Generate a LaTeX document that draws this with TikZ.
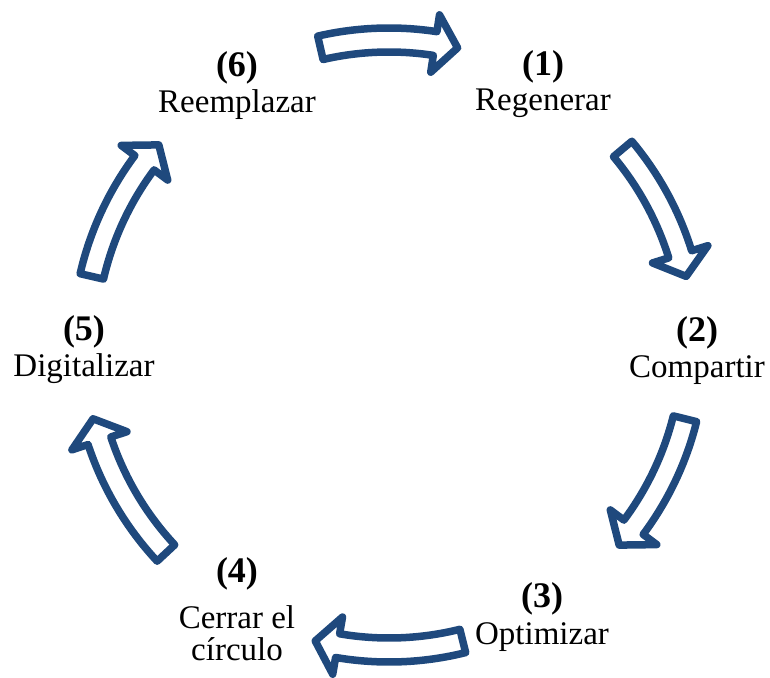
\documentclass[tikz,border=0pt]{standalone}
\usepackage{fontspec}
\setmainfont{Liberation Serif}
\definecolor{cycleblue}{HTML}{1F497D}
\tikzset{
  cyclearrow/.style={draw=cycleblue, line width=7.5pt, line join=round, fill=white},
  stepnum/.style={anchor=base, inner sep=0pt, font=\fontsize{36}{38}\selectfont\bfseries},
  stepname/.style={anchor=base, inner sep=0pt, font=\fontsize{33}{36}\selectfont},
}
% Curved block arrow on the ring: #1 = tail angle, #2 = tip angle
\newcommand{\ringarrow}[2]{%
  \pgfmathsetmacro{\headang}{#2+4.3}
  \draw[cyclearrow] (#1:317pt) arc[start angle=#1, end angle=\headang, radius=317pt]
    -- (\headang:334pt) -- (#2:305pt) -- (\headang:276pt) -- (\headang:293pt)
    arc[start angle=\headang, end angle=#1, radius=293pt] -- cycle;}

\begin{document}
\begin{tikzpicture}[x=1pt, y=1pt]
\useasboundingbox (-389,-332) rectangle (381,345);
% Arrows around the cycle
\ringarrow{103}{77}
\ringarrow{40}{13}
\ringarrow{-14}{-41}
\ringarrow{-76}{-104}
\ringarrow{-137}{-166}
\ringarrow{167}{139}
% Steps
\node[stepnum] (n1) at (154,269) {(1)};
\node[stepname] (t1) at (154,234) {Regenerar};
\node[stepnum] (n2) at (308,4) {(2)};
\node[stepname] (t2) at (308,-32) {Compartir};
\node[stepnum] (n3) at (153,-262) {(3)};
\node[stepname] (t3) at (153,-299) {Optimizar};
\node[stepnum] (n4) at (-152,-237) {(4)};
\node[stepname] (t4) at (-152,-283) {Cerrar el};
\node[stepname] (t4b) at (-152,-315) {círculo};
\node[stepnum] (n5) at (-305,5) {(5)};
\node[stepname] (t5) at (-305,-31) {Digitalizar};
\node[stepnum] (n6) at (-152,268) {(6)};
\node[stepname] (t6) at (-152,232) {Reemplazar};
\end{tikzpicture}
\end{document}
